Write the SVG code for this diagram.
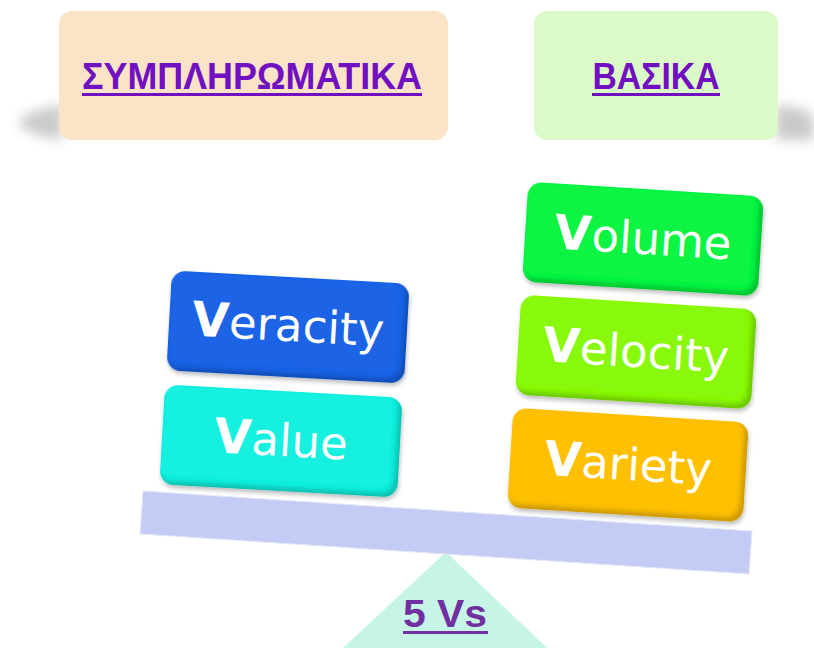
<svg xmlns="http://www.w3.org/2000/svg" width="814" height="648" viewBox="0 0 814 648">
<defs>
<style>
.hdr{font-family:"Liberation Sans","DejaVu Sans",sans-serif;font-weight:bold;fill:#7010c0}
.blk{font-family:"DejaVu Sans","Liberation Sans",sans-serif;font-size:45px;fill:#ffffff;text-anchor:middle}
.blk tspan.v{font-weight:bold;font-size:48px}
.ul{fill:#7010c0}
</style>
<filter id="bevel" x="-10%" y="-15%" width="125%" height="140%">
<feGaussianBlur in="SourceAlpha" stdDeviation="2.5" result="b"/>
<feOffset in="b" dx="-4" dy="-4" result="o"/>
<feComposite in="SourceAlpha" in2="o" operator="out" result="edge"/>
<feFlood flood-color="#000" flood-opacity="0.4"/>
<feComposite in2="edge" operator="in" result="shade"/>
<feGaussianBlur in="SourceAlpha" stdDeviation="2" result="sb"/>
<feOffset in="sb" dx="1" dy="3" result="so"/>
<feFlood flood-color="#000" flood-opacity="0.25"/>
<feComposite in2="so" operator="in" result="drop"/>
<feMerge><feMergeNode in="drop"/><feMergeNode in="SourceGraphic"/><feMergeNode in="shade"/></feMerge>
</filter>
<filter id="soft" x="-50%" y="-50%" width="200%" height="200%">
<feGaussianBlur stdDeviation="6"/>
</filter>
</defs>
<rect width="814" height="648" fill="#ffffff"/>

<g id="support">
<polygon points="446,552 330,660 560,660" fill="#c6f5e7"/>
</g>
<g id="beam">
<polygon points="143,491 752,531 749,574 140,534" fill="#c4cbf4" stroke="#e4e8fb" stroke-width="1"/>
</g>

<g id="complementary">
<polygon points="62,104 26,114 18,126 40,136 62,140" fill="#8a8a8a" opacity="0.45" filter="url(#soft)"/>
<rect x="59" y="11" width="389" height="129" rx="13" fill="#fbe3c8"/>
<text class="hdr" x="252" y="89" font-size="36" text-anchor="middle" textLength="340" lengthAdjust="spacingAndGlyphs">ΣΥΜΠΛΗΡΩΜΑΤΙΚΑ</text>
<rect class="ul" x="82" y="93" width="340" height="3"/>
</g>

<g id="basic">
<polygon points="776,104 806,110 814,118 814,140 776,140" fill="#8a8a8a" opacity="0.45" filter="url(#soft)"/>
<rect x="534" y="11" width="244" height="129" rx="13" fill="#dcf9c8"/>
<text class="hdr" x="656" y="89" font-size="36" text-anchor="middle" textLength="127" lengthAdjust="spacingAndGlyphs">ΒΑΣΙΚΑ</text>
<rect class="ul" x="592" y="93" width="128" height="3"/>
</g>

<g id="veracity" transform="translate(288,327) rotate(3.2)">
<rect x="-119" y="-50" width="238" height="100" rx="14" fill="#1f63e6" filter="url(#bevel)"/>
<text class="blk" x="0" y="14"><tspan class="v">V</tspan>eracity</text>
</g>
<g id="value" transform="translate(281,441) rotate(3.2)">
<rect x="-119" y="-50" width="238" height="100" rx="14" fill="#14f0df" filter="url(#bevel)"/>
<text class="blk" x="0" y="15"><tspan class="v">V</tspan>alue</text>
</g>
<g id="volume" transform="translate(643,239) rotate(3.6)">
<rect x="-118" y="-50" width="236" height="100" rx="14" fill="#11f542" filter="url(#bevel)"/>
<text class="blk" x="0" y="15"><tspan class="v">V</tspan>olume</text>
</g>
<g id="velocity" transform="translate(636,352) rotate(3.6)">
<rect x="-118" y="-50" width="236" height="100" rx="14" fill="#88f90c" filter="url(#bevel)"/>
<text class="blk" x="0" y="15"><tspan class="v">V</tspan>elocity</text>
</g>
<g id="variety" transform="translate(628,465) rotate(3.6)">
<rect x="-118" y="-50" width="236" height="100" rx="14" fill="#fec000" filter="url(#bevel)"/>
<text class="blk" x="0" y="15"><tspan class="v">V</tspan>ariety</text>
</g>

<g id="label-5vs">
<text x="445" y="627" font-family="'Liberation Sans','DejaVu Sans',sans-serif" font-weight="bold" font-size="38" fill="#7030a0" text-anchor="middle" textLength="84" lengthAdjust="spacingAndGlyphs">5 Vs</text>
<rect x="403" y="631" width="85" height="3" fill="#7030a0"/>
</g>

<g id="connectors"></g>
</svg>
